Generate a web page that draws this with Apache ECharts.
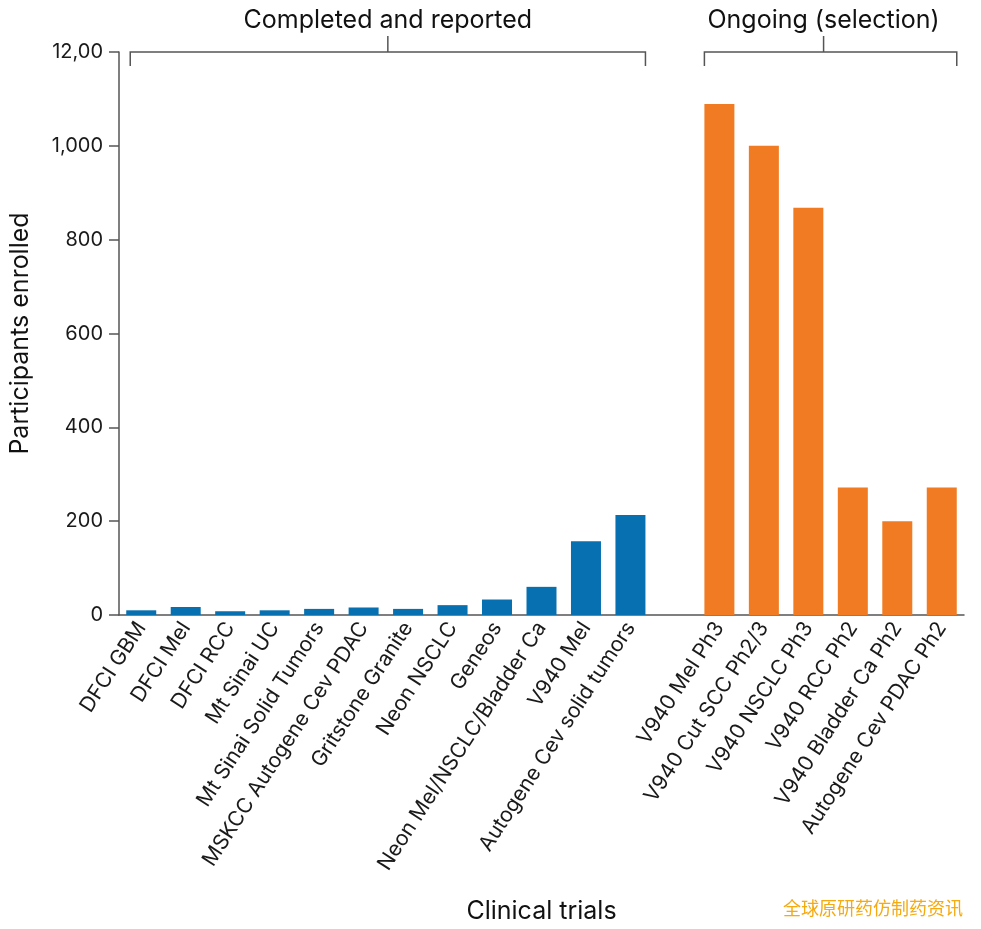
<!DOCTYPE html>
<html>
<head>
<meta charset="utf-8">
<script src="https://cdn.jsdelivr.net/npm/echarts@6/dist/echarts.min.js"></script>
<style>html,body{margin:0;padding:0;background:#fff;overflow:hidden}#c{width:981px;height:929px}</style>
</head>
<body>
<div id="c"></div>
<script>
const completedNames = ["DFCI GBM","DFCI Mel","DFCI RCC","Mt Sinai UC","Mt Sinai Solid Tumors","MSKCC Autogene Cev PDAC","Gritstone Granite","Neon NSCLC","Geneos","Neon Mel/NSCLC/Bladder Ca","V940 Mel","Autogene Cev solid tumors"];
const completedValues = [10, 17, 8, 10, 13, 16, 13, 21, 33, 60, 157, 213];
const ongoingNames = ["V940 Mel Ph3","V940 Cut SCC Ph2/3","V940 NSCLC Ph3","V940 RCC Ph2","V940 Bladder Ca Ph2","Autogene Cev PDAC Ph2"];
const ongoingValues = [1089, 1000, 868, 272, 200, 272];
const yTickLabels = ["0","200","400","600","800","1,000","12,00"];
const groupTitles = ["Completed and reported","Ongoing (selection)"];

const FONT = 'Inter, Roboto, "Noto Sans", sans-serif';
const categories = [...completedNames, "", ...ongoingNames];
const blueData = categories.map((c,i)=> i < completedValues.length ? completedValues[i] : '-');
const orangeData = categories.map((c,i)=> i > completedValues.length ? ongoingValues[i-completedValues.length-1] : '-');

const chart = echarts.init(document.getElementById('c'), null, {renderer:'canvas', width:981, height:929});
const option = {
  backgroundColor:'#fff',
  animation:false,
  grid:{left:116, right:17, top:52, height:568, containLabel:false},
  xAxis:{
    type:'category', data:categories,
    name:'Clinical trials', nameLocation:'middle', nameGap:284,
    nameTextStyle:{fontSize:25, color:'#111', fontFamily:FONT},
    axisLine:{lineStyle:{color:'#555', width:1.5}},
    axisTick:{show:false},
    axisLabel:{interval:0, rotate:57, fontSize:21, color:'#1a1a1a', fontFamily:FONT, margin:9}
  },
  yAxis:{
    type:'value', min:0, max:1200, interval:200,
    name:'Participants enrolled', nameLocation:'middle', nameGap:86, nameRotate:90,
    nameTextStyle:{fontSize:25, color:'#111', fontFamily:FONT},
    axisLine:{show:true, lineStyle:{color:'#555', width:1.5}},
    axisTick:{show:true, length:10, lineStyle:{color:'#555', width:1.5}},
    splitLine:{show:false},
    axisLabel:{fontSize:20, color:'#1a1a1a', fontFamily:FONT, margin:16,
      formatter:(v)=> yTickLabels[Math.round(v/200)]}
  },
  series:[
    {type:'bar', data:blueData, barWidth:30, barGap:'-100%', itemStyle:{color:'#0770b0'}},
    {type:'bar', data:orangeData, barWidth:30, barGap:'-100%', itemStyle:{color:'#f07b22'}}
  ]
};
chart.setOption(option);

function bracket(i0, i1, title, leftPad, centerShift){
  const x0 = chart.convertToPixel({xAxisIndex:0}, i0) - 15 + leftPad;
  const x1 = chart.convertToPixel({xAxisIndex:0}, i1) + 15;
  const y = chart.convertToPixel({yAxisIndex:0}, 1200);
  const xc = (x0+x1)/2 + centerShift;
  const ls = {stroke:'#555', lineWidth:1.5};
  return [
    {type:'polyline', shape:{points:[[x0,y+14],[x0,y],[x1,y],[x1,y+14]]}, style:Object.assign({fill:null},ls)},
    {type:'line', shape:{x1:xc,y1:y,x2:xc,y2:y-16}, style:ls},
    {type:'text', x:xc, y:y-32, style:{text:title, fontSize:25, fontFamily:FONT, fill:'#111', align:'center', verticalAlign:'middle'}}
  ];
}
const n = completedValues.length;
const elems = [
  ...bracket(0, n-1, groupTitles[0], 4, 0),
  ...bracket(n+1, n+ongoingValues.length, groupTitles[1], 0, -7),
  {type:'text', right:18, bottom:12, style:{text:'全球原研药仿制药资讯', fontSize:18, fontFamily:'"Noto Sans CJK SC", sans-serif', fill:'#f5aa10'}}
];
chart.setOption({graphic:elems});
</script>
</body>
</html>
